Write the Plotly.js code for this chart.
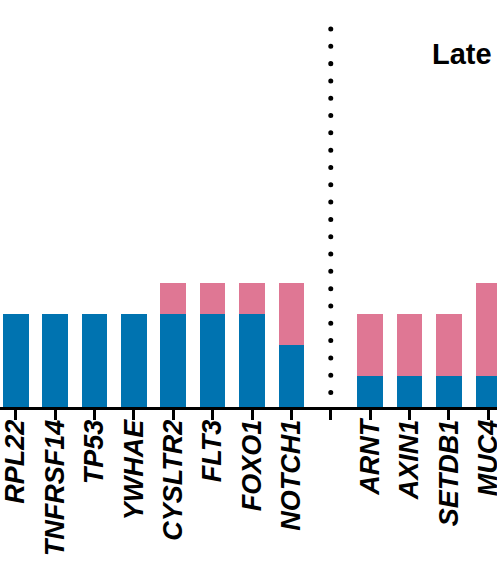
<!DOCTYPE html>
<html>
<head>
<meta charset="utf-8">
<script src="https://cdn.plot.ly/plotly-3.0.1.min.js"></script>
<style>
  html, body { margin: 0; padding: 0; background: #fff; }
  #chart { width: 497px; height: 564px; }
</style>
</head>
<body>
<div id="chart"></div>
<script>
// Genes along the x axis; the blank slot separates the two groups.
const genes = ["RPL22", "TNFRSF14", "TP53", "YWHAE", "CYSLTR2", "FLT3", "FOXO1", "NOTCH1",
               " ", "ARNT", "AXIN1", "SETDB1", "MUC4"];
// Stacked counts per gene (blue segment at the bottom, pink on top).
const blueCounts = [3, 3, 3, 3, 3, 3, 3, 2, null, 1, 1, 1, 1];
const pinkCounts = [0, 0, 0, 0, 1, 1, 1, 2, null, 2, 2, 2, 3];
const groupLabel = "Late";

const BLUE = "#0073B0";
const PINK = "#DF7794";
const gapIndex = genes.indexOf(" ");

const traces = [
  { type: "bar", x: genes, y: blueCounts, marker: { color: BLUE, line: { width: 0 } },
    hoverinfo: "skip", showlegend: false },
  { type: "bar", x: genes, y: pinkCounts, marker: { color: PINK, line: { width: 0 } },
    hoverinfo: "skip", showlegend: false }
];

const layout = {
  width: 497, height: 564,
  margin: { l: 0, r: 0, t: 29, b: 157, pad: 0 },
  paper_bgcolor: "#fff", plot_bgcolor: "#fff",
  barmode: "stack", bargap: 0.35,
  showlegend: false,
  xaxis: {
    type: "category", categoryorder: "array", categoryarray: genes,
    range: [-0.399, 12.221],
    showline: true, linecolor: "#000", linewidth: 3,
    ticks: "outside", ticklen: 10, tickwidth: 3, tickcolor: "#000",
    tickangle: -90, ticklabelstandoff: -11,
    tickfont: { family: "Liberation Sans, Arial, sans-serif", size: 27, color: "#000",
                weight: "bold", style: "italic" },
    showgrid: false, zeroline: false, fixedrange: true
  },
  yaxis: {
    range: [0, 12.17],
    showline: false, showticklabels: false, ticks: "",
    showgrid: false, zeroline: false, fixedrange: true
  },
  shapes: [{
    type: "line", xref: "x", yref: "paper",
    x0: gapIndex, x1: gapIndex, y0: 1, y1: 0,
    line: { color: "#000", width: 5, dash: "dot" }
  }],
  annotations: [{
    text: "<b>" + groupLabel + "</b>", xref: "x", yref: "paper",
    x: 11.32, y: 1.0 - (54 - 29) / 378, xanchor: "center", yanchor: "middle",
    showarrow: false,
    font: { family: "Liberation Sans, Arial, sans-serif", size: 29, color: "#000" }
  }]
};

Plotly.newPlot("chart", traces, layout, { staticPlot: true, displayModeBar: false })
  .then(function () {
    // Round dots for the group separator.
    document.querySelectorAll(".shapelayer path").forEach(function (p) {
      p.style.strokeLinecap = "round";
      p.style.strokeDasharray = "0.01 17.3";
    });
  });
</script>
</body>
</html>
